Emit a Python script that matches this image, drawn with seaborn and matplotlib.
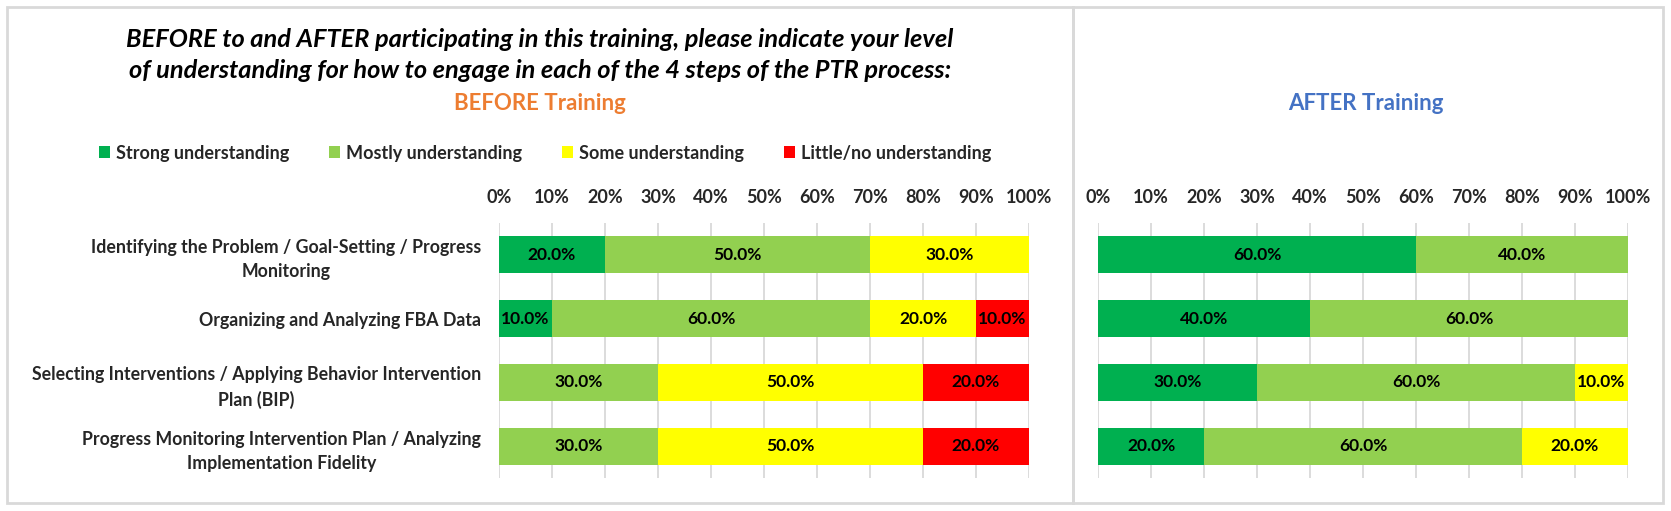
import numpy as np
import pandas as pd
import matplotlib
matplotlib.use("Agg")
import matplotlib.pyplot as plt
import matplotlib.patches as patches
import seaborn as sns

# survey data (percent of respondents)
steps = [
    "Identifying the Problem / Goal-Setting / Progress\nMonitoring",
    "Organizing and Analyzing FBA Data",
    "Selecting Interventions / Applying Behavior Intervention\nPlan (BIP)",
    "Progress Monitoring Intervention Plan / Analyzing\nImplementation Fidelity",
]
levels = ["Strong understanding", "Mostly understanding",
          "Some understanding", "Little/no understanding"]
level_colors = ["#00B050", "#92D050", "#FFFF00", "#FF0000"]

before_strong = [20, 10, 0, 0]
before_mostly = [50, 60, 30, 30]
before_some = [30, 20, 50, 50]
before_little = [0, 10, 20, 20]

after_strong = [60, 40, 30, 20]
after_mostly = [40, 60, 60, 60]
after_some = [0, 0, 10, 20]
after_little = [0, 0, 0, 0]

pct_ticks = list(range(0, 101, 10))

title_text = ("BEFORE to and AFTER participating in this training, please indicate your level\n"
              "of understanding for how to engage in each of the 4 steps of the PTR process:")

sns.set_theme(style="white")
plt.rcParams["font.family"] = ["Lato", "DejaVu Sans"]

W, H = 1671, 511
fig = plt.figure(figsize=(W / 100, H / 100), dpi=100)


def fx(px):
    return px / W


def fy(py):
    return 1 - py / H


def stacked_panel(ax, parts, show_labels):
    df = pd.DataFrame(dict(zip(levels, parts)), index=steps)
    cum = df.cumsum(axis=1)
    # draw cumulative totals from the longest to the shortest so they stack visually
    for lvl, col in reversed(list(zip(levels, level_colors))):
        if df[lvl].sum() == 0:
            continue
        d = pd.DataFrame({"step": steps, "end": cum[lvl].values})
        sns.barplot(data=d, x="end", y="step", order=steps, color=col,
                    saturation=1, width=0.58, errorbar=None, ax=ax,
                    edgecolor="none", linewidth=0)
    for i, step in enumerate(steps):
        for lvl in levels:
            v = df.loc[step, lvl]
            if v > 0:
                ax.text(cum.loc[step, lvl] - v / 2, i, f"{v:.1f}%",
                        ha="center", va="center", fontsize=12.5,
                        fontweight="bold", color="black")

    ax.set_xlim(0, 100)
    ax.set_ylim(3.5, -0.5)
    ax.set_xticks(pct_ticks)
    ax.set_xticklabels([f"{t}%" for t in pct_ticks], fontsize=13, fontweight="bold")
    ax.xaxis.tick_top()
    ax.tick_params(axis="x", length=0, pad=12)
    ax.tick_params(axis="y", length=0, pad=13)
    ax.xaxis.grid(True, color="#D9D9D9", linewidth=1.3)
    ax.yaxis.grid(False)
    ax.set_axisbelow(True)
    for s in ax.spines.values():
        s.set_visible(False)
    ax.set_xlabel("")
    ax.set_ylabel("")
    if show_labels:
        for lab in ax.get_yticklabels():
            lab.set_fontsize(12.8)
            lab.set_fontweight("bold")
            lab.set_multialignment("center")
            lab.set_linespacing(1.5)
    else:
        ax.set_yticklabels([])


ax_b = fig.add_axes([fx(499), fy(478), fx(1029 - 499), (478 - 223) / H])
ax_a = fig.add_axes([fx(1098), fy(478), fx(1628 - 1098), (478 - 223) / H])

stacked_panel(ax_b, [before_strong, before_mostly, before_some, before_little], True)
stacked_panel(ax_a, [after_strong, after_mostly, after_some, after_little], False)

# panel frames
for x0, x1 in [(7, 1073), (1073, 1663)]:
    fig.patches.append(patches.Rectangle((fx(x0), fy(503)), fx(x1 - x0), (503 - 7) / H,
                                         transform=fig.transFigure, fill=False,
                                         edgecolor="#D9D9D9", linewidth=2))

fig.text(fx(540), fy(55), title_text, ha="center", va="center", fontsize=18.3,
         fontweight="bold", fontstyle="italic", linespacing=1.4, color="black")
fig.text(fx(540), fy(104), "BEFORE Training", ha="center", va="center",
         fontsize=16, fontweight="bold", color="#ED7D31")
fig.text(fx(1366), fy(104), "AFTER Training", ha="center", va="center",
         fontsize=16, fontweight="bold", color="#4472C4")

handles = [patches.Patch(facecolor=c, edgecolor="none", label=l)
           for l, c in zip(levels, level_colors)]
fig.legend(handles=handles, loc="center", bbox_to_anchor=(fx(545), fy(153)),
           ncol=4, frameon=False, handlelength=0.6, handleheight=0.6,
           handletextpad=0.35, columnspacing=2.2,
           prop={"weight": "bold", "size": 13})

fig.savefig("out.png", dpi=100)
